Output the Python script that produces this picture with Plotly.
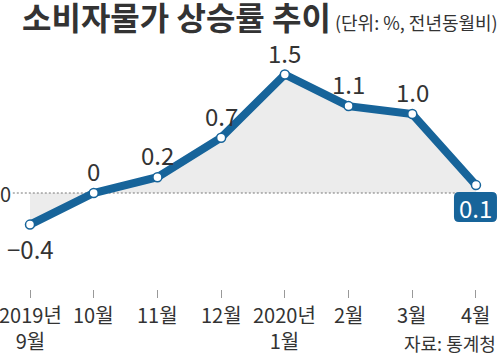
import plotly.graph_objects as go

categories = ["2019년<br>9월", "10월", "11월", "12월", "2020년<br>1월", "2월", "3월", "4월"]
values = [-0.4, 0.0, 0.2, 0.7, 1.5, 1.1, 1.0, 0.1]
value_labels = ["-0.4", "0", "0.2", "0.7", "1.5", "1.1", "1.0", "0.1"]
label_pos = ["below", "above", "above", "above", "above", "above", "above", "box"]

BLUE = "#17649a"
TEXT = "#333333"
FONT = "Noto Sans CJK KR"

idx = list(range(len(categories)))
PLOT_BOTTOM = 289

fig = go.Figure()
fig.add_trace(go.Scatter(x=idx, y=values, mode="lines", fill="tozeroy",
                         fillcolor="#ececec", line=dict(width=0),
                         hoverinfo="skip", showlegend=False))
fig.add_trace(go.Scatter(x=[-0.27, idx[-1]], y=[0, 0], mode="lines",
                         line=dict(color="#777777", width=1, dash="2px,2px"),
                         hoverinfo="skip", showlegend=False))
fig.add_trace(go.Scatter(x=idx, y=values, mode="lines+markers",
                         line=dict(color=BLUE, width=8),
                         marker=dict(size=9, color="white", line=dict(color=BLUE, width=1.5)),
                         showlegend=False))

annotations = []
shapes = []
for i, (v, lab, pos) in enumerate(zip(values, value_labels, label_pos)):
    txt = lab.replace("-", "\u2212")
    if pos == "above":
        annotations.append(dict(x=i, y=v, xref="x", yref="y", text=txt, showarrow=False,
                                yanchor="bottom", yshift=3,
                                font=dict(family=FONT, size=24, color=TEXT)))
    elif pos == "below":
        annotations.append(dict(x=i, y=v, xref="x", yref="y", text=txt, showarrow=False,
                                yanchor="top", yshift=-4,
                                font=dict(family=FONT, size=24, color=TEXT)))
    else:
        r = 5
        x0, x1, y0, y1 = -22, 21, -7, -37
        path = (f"M {x0+r},{y0} L {x1-r},{y0} Q {x1},{y0} {x1},{y0-r} "
                f"L {x1},{y1+r} Q {x1},{y1} {x1-r},{y1} L {x0+r},{y1} "
                f"Q {x0},{y1} {x0},{y1+r} L {x0},{y0-r} Q {x0},{y0} {x0+r},{y0} Z")
        shapes.append(dict(type="path", xref="x", yref="y", xsizemode="pixel",
                           ysizemode="pixel", xanchor=i, yanchor=v, path=path,
                           fillcolor=BLUE, line=dict(width=0), layer="above"))
        annotations.append(dict(x=i, y=v, xref="x", yref="y", text=txt, showarrow=False,
                                yanchor="middle", yshift=-22,
                                font=dict(family=FONT, size=24, color="white")))

# x tick labels (as annotations so the edge label is not dropped)
for i, cat in enumerate(categories):
    annotations.append(dict(x=i, y=(PLOT_BOTTOM - 298) / PLOT_BOTTOM, xref="x", yref="paper",
                            text=cat, showarrow=False, yanchor="top", align="center",
                            font=dict(family=FONT, size=20, color=TEXT)))

annotations.append(dict(x=0.01, y=0, xref="paper", yref="y", text="0", showarrow=False,
                        xanchor="center", font=dict(family=FONT, size=20, color=TEXT)))
annotations.append(dict(x=20/500, y=(PLOT_BOTTOM-16)/PLOT_BOTTOM, xref="paper", yref="paper",
                        xanchor="left", yanchor="middle", showarrow=False,
                        text="<b>소비자물가 상승률 추이</b><span style='font-size:18px'> (단위: %, 전년동월비)</span>",
                        font=dict(family=FONT, size=32, color=TEXT)))
annotations.append(dict(x=498/500, y=(PLOT_BOTTOM-343)/PLOT_BOTTOM, xref="paper", yref="paper",
                        xanchor="right", yanchor="middle", showarrow=False,
                        text="자료: 통계청", font=dict(family=FONT, size=18, color=TEXT)))

px_per_unit = 63.71
x0r = -30 / px_per_unit
x1r = x0r + 500 / px_per_unit
ppu_y = 79
y1r = 193 / ppu_y
y0r = y1r - PLOT_BOTTOM / ppu_y

fig.update_layout(
    width=500, height=354,
    margin=dict(l=0, r=0, t=0, b=354 - PLOT_BOTTOM),
    paper_bgcolor="white", plot_bgcolor="white",
    xaxis=dict(range=[x0r, x1r], tickvals=idx, showticklabels=False,
               ticks="outside", ticklen=8, tickcolor="#999999", tickwidth=1,
               showgrid=False, zeroline=False, showline=False, fixedrange=True),
    yaxis=dict(range=[y0r, y1r], visible=False, fixedrange=True),
    annotations=annotations,
    shapes=shapes,
)

fig.write_html("out.html")
